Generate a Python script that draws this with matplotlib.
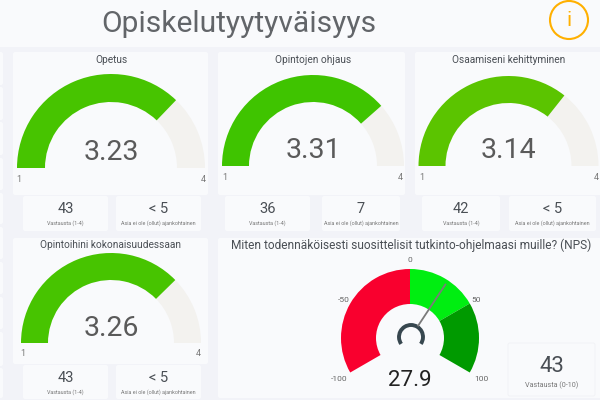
#!/usr/bin/env python3

import numpy as np
from matplotlib import pyplot as plt
from matplotlib.patches import Wedge, FancyBboxPatch, Circle, Arc

plt.rcParams['font.family'] = ['Roboto', 'DejaVu Sans']

page_title = "Opiskelutyytyväisyys"
gauge_titles = ["Opetus", "Opintojen ohjaus", "Osaamiseni kehittyminen", "Opintoihini kokonaisuudessaan"]
gauge_values = [3.23, 3.31, 3.14, 3.26]
gauge_colors = ["#47C400", "#3FC400", "#5BC400", "#47C400"]
gauge_min = 1
gauge_max = 4
answer_counts = ["43", "36", "42", "43"]
not_relevant = ["< 5", "7", "< 5", "< 5"]
count_label = "Vastausta (1-4)"
na_label = "Asia ei ole (ollut) ajankohtainen"

nps_title = "Miten todennäköisesti suosittelisit tutkinto-ohjelmaasi muille? (NPS)"
nps_value = 27.9
nps_count = "43"
nps_count_label = "Vastausta (0-10)"
nps_bands = [-100, 0, 50, 100]
nps_colors = ["#F9002E", "#00EE11", "#009A00"]
nps_ticks = [-100, -50, 0, 50, 100]

PAGE = "#F2F3F8"
CARD = "#F9FAFC"
TRACK = "#F3F2EF"
GREY = "#5A5A5A"

fig = plt.figure(figsize=(6, 4), dpi=100, facecolor=PAGE)
ax = fig.add_axes([0, 0, 1, 1])
ax.set_xlim(0, 600)
ax.set_ylim(0, 400)
ax.axis('off')


def card(x0, y0, x1, y1, edge='none'):
    # y counted from the top of the page
    ax.add_patch(FancyBboxPatch((x0 + 1, 400 - y1 + 1), x1 - x0 - 2, y1 - y0 - 2,
                                boxstyle="round,pad=1,rounding_size=2", fc=CARD, ec=edge, lw=0.6))


def txt(x, y, s, size, color=GREY, ha='center', **kw):
    ax.text(x, 400 - y, s, fontsize=size, color=color, ha=ha, va='center', **kw)


def draw_gauge(cx, cy, r_out, r_in, value, color, title, title_y, num_y, lab_y, lab_x):
    frac = (value - gauge_min) / (gauge_max - gauge_min)
    ang = 180 - 180 * frac
    ax.add_patch(Wedge((cx, 400 - cy), r_out, 0, ang, width=r_out - r_in, fc=TRACK, ec='none'))
    ax.add_patch(Wedge((cx, 400 - cy), r_out, ang, 180, width=r_out - r_in, fc=color, ec='none'))
    txt(cx, title_y, title, 7.3, "#4A4F55")
    txt(cx, num_y, f"{value:.2f}", 20.5, GREY)
    txt(lab_x[0], lab_y, str(gauge_min), 6.5, "#777777")
    txt(lab_x[1], lab_y, str(gauge_max), 6.5, "#777777")


def stat_card(x0, x1, y0, y1, big, small):
    card(x0, y0, x1, y1)
    mid = (x0 + x1) / 2
    txt(mid, y0 + 13, big, 10.5, "#4A4F55")
    txt(mid, y0 + 27, small, 3.9, "#777777")


# header strip
ax.add_patch(FancyBboxPatch((0, 353), 600, 47, boxstyle="square,pad=0", fc=CARD, ec='none'))
txt(239, 24, page_title, 21.6, "#626569")
ax.add_patch(Circle((569, 400 - 20), 19, fc='none', ec="#FFB000", lw=1.5))
txt(569, 21, "i", 15, "#FFB000")

# cut-off cards along the left edge
for y0, y1 in [(52, 85), (87, 120), (122, 155), (158, 190), (193, 224), (227, 259),
               (262, 294), (297, 329), (332, 366), (368, 398)]:
    card(-6, y0, 3, y1)

# gauge cards
card(13, 52, 208, 195)
card(218, 52, 405, 195)
card(415, 52, 606, 195)
card(13, 238, 208, 364)
card(218, 238, 606, 398)

draw_gauge(111, 168, 94, 66, gauge_values[0], gauge_colors[0], gauge_titles[0], 60, 152, 179, (19, 203))
draw_gauge(313, 166, 91, 64, gauge_values[1], gauge_colors[1], gauge_titles[1], 60, 151, 177, (225, 400))
draw_gauge(508.5, 166, 90, 63, gauge_values[2], gauge_colors[2], gauge_titles[2], 60, 151, 177, (422, 596))
draw_gauge(111, 343, 90, 63, gauge_values[3], gauge_colors[3], gauge_titles[3], 245, 329, 354, (23, 198))

# small number cards under the gauges
stat_rows = [(23, 108, 116, 201, 196, 231), (225, 310, 322, 400, 196, 231),
             (422, 500, 509, 596, 196, 231), (23, 108, 116, 201, 365, 399)]
for i, (a0, a1, b0, b1, y0, y1) in enumerate(stat_rows):
    stat_card(a0, a1, y0, y1, answer_counts[i], count_label)
    stat_card(b0, b1, y0, y1, not_relevant[i], na_label)

# NPS gauge
txt(231, 245, nps_title, 8.6, "#4A4F55", ha='left')
cx, cy, r_out, r_in = 410, 338, 69, 34


def nps_angle(v):
    return 90 - v * 120 / 100


for lo, hi, col in zip(nps_bands[:-1], nps_bands[1:], nps_colors):
    ax.add_patch(Wedge((cx, 400 - cy), r_out, nps_angle(hi), nps_angle(lo), width=r_out - r_in, fc=col, ec='none'))

tick_offsets = {-100: 82, -50: 77, 0: 78, 50: 76, 100: 82}
for t in nps_ticks:
    a = np.radians(nps_angle(t))
    off = tick_offsets[t]
    txt(cx + off * np.cos(a), cy - off * np.sin(a), str(t), 6, "#666666")

a = np.radians(nps_angle(nps_value))
ax.plot([cx + 14 * np.cos(a), cx + 65 * np.cos(a)], [400 - cy + 14 * np.sin(a), 400 - cy + 65 * np.sin(a)],
        color="#7A7A7A", lw=1.3, solid_capstyle='butt')
ax.add_patch(Arc((cx + 1, 400 - cy + 1), 24, 24, theta1=-35, theta2=215, ec="#37474F", lw=2.8))
txt(410, 381, f"{nps_value}", 16, "#222222")

# NPS answer count
card(508, 343, 595, 396, edge="#F0F1F5")
txt(551.5, 367, nps_count, 16, "#4A4F55")
txt(551.5, 385, nps_count_label, 5.2, "#777777")

fig.savefig("out.png", dpi=100, facecolor=PAGE)
